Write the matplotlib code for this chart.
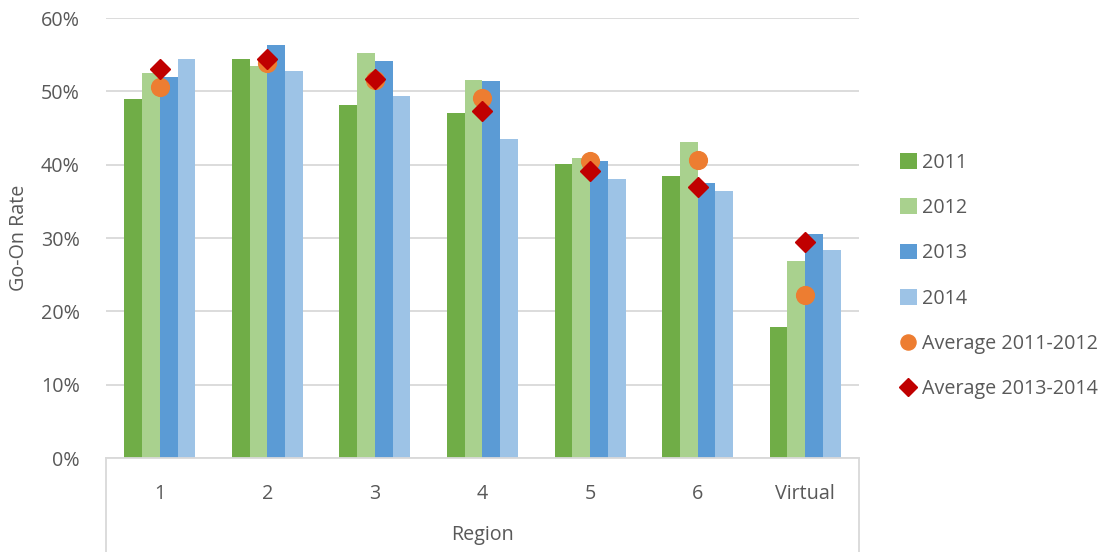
import matplotlib
matplotlib.use("Agg")
import matplotlib.pyplot as plt
import numpy as np
from matplotlib.lines import Line2D

regions = ["1", "2", "3", "4", "5", "6", "Virtual"]
rate_2011 = [0.490, 0.544, 0.481, 0.470, 0.401, 0.384, 0.178]
rate_2012 = [0.525, 0.534, 0.552, 0.516, 0.409, 0.431, 0.269]
rate_2013 = [0.520, 0.563, 0.542, 0.514, 0.405, 0.375, 0.306]
rate_2014 = [0.544, 0.528, 0.494, 0.435, 0.380, 0.364, 0.283]
avg_2011_2012 = [0.506, 0.538, 0.516, 0.491, 0.405, 0.407, 0.222]
avg_2013_2014 = [0.530, 0.544, 0.517, 0.473, 0.392, 0.369, 0.294]
y_ticks = [0.0, 0.1, 0.2, 0.3, 0.4, 0.5, 0.6]

bar_series = [
    ("2011", rate_2011, "#70AD47"),
    ("2012", rate_2012, "#A9D18E"),
    ("2013", rate_2013, "#5B9BD5"),
    ("2014", rate_2014, "#9DC3E6"),
]

plt.rcParams["font.family"] = ["Open Sans", "DejaVu Sans"]
text_color = "#595959"
grid_color = "#D9D9D9"
fs = 14.2

fig = plt.figure(figsize=(11.17, 5.52), dpi=100)
ax = fig.add_axes([106 / 1117, 1 - 458 / 552, (859 - 106) / 1117, (458 - 18) / 552])

x = np.arange(len(regions))
bw = 0.165
for i, (name, vals, col) in enumerate(bar_series):
    ax.bar(x + (i - 1.5) * bw, vals, width=bw, color=col, label=name, zorder=2)

# The averages sit over the middle of each group
ax.plot(x, avg_2011_2012, linestyle="none", marker="o", markersize=12.8,
        color="#ED7D31", label="Average 2011-2012", zorder=3)
ax.plot(x, avg_2013_2014, linestyle="none", marker="D", markersize=10.5,
        color="#C00000", label="Average 2013-2014", zorder=4)

ax.set_xlim(-0.5, len(regions) - 0.5)
ax.set_ylim(0, 0.6)
ax.set_yticks(y_ticks)
ax.set_yticklabels([f"{int(round(t * 100))}%" for t in y_ticks])
ax.set_xticks(x)
ax.set_xticklabels(regions)
ax.yaxis.grid(True, color=grid_color, linewidth=1.3, zorder=0)
ax.set_axisbelow(True)
for s in ["left", "right", "top"]:
    ax.spines[s].set_visible(False)
ax.spines["bottom"].set_color(grid_color)
ax.spines["bottom"].set_linewidth(1.3)
ax.tick_params(axis="both", length=0, labelsize=fs, colors=text_color)
ax.tick_params(axis="x", pad=19)
ax.tick_params(axis="y", pad=19)

ax.set_ylabel("Go-On Rate", fontsize=fs, color=text_color, labelpad=8)
ax.set_xlabel("Region", fontsize=fs, color=text_color, labelpad=15)

# Boundary lines of the outer "Region" category level
for xf in (106 / 1117, 859 / 1117):
    fig.add_artist(Line2D([xf, xf], [0, 1 - 458 / 552], color=grid_color,
                          linewidth=1.3, transform=fig.transFigure))

handles, labels = ax.get_legend_handles_labels()
order = [2, 3, 4, 5, 0, 1]
leg = fig.legend([handles[k] for k in order], [labels[k] for k in order],
                 loc="center left", bbox_to_anchor=(886 / 1117, 1 - 276 / 552),
                 frameon=False, fontsize=fs, labelspacing=1.28,
                 handlelength=0.85, handleheight=0.85, handletextpad=0.3,
                 markerscale=0.85, borderpad=0.2)
for t in leg.get_texts():
    t.set_color(text_color)

fig.savefig("out.png", dpi=100)
